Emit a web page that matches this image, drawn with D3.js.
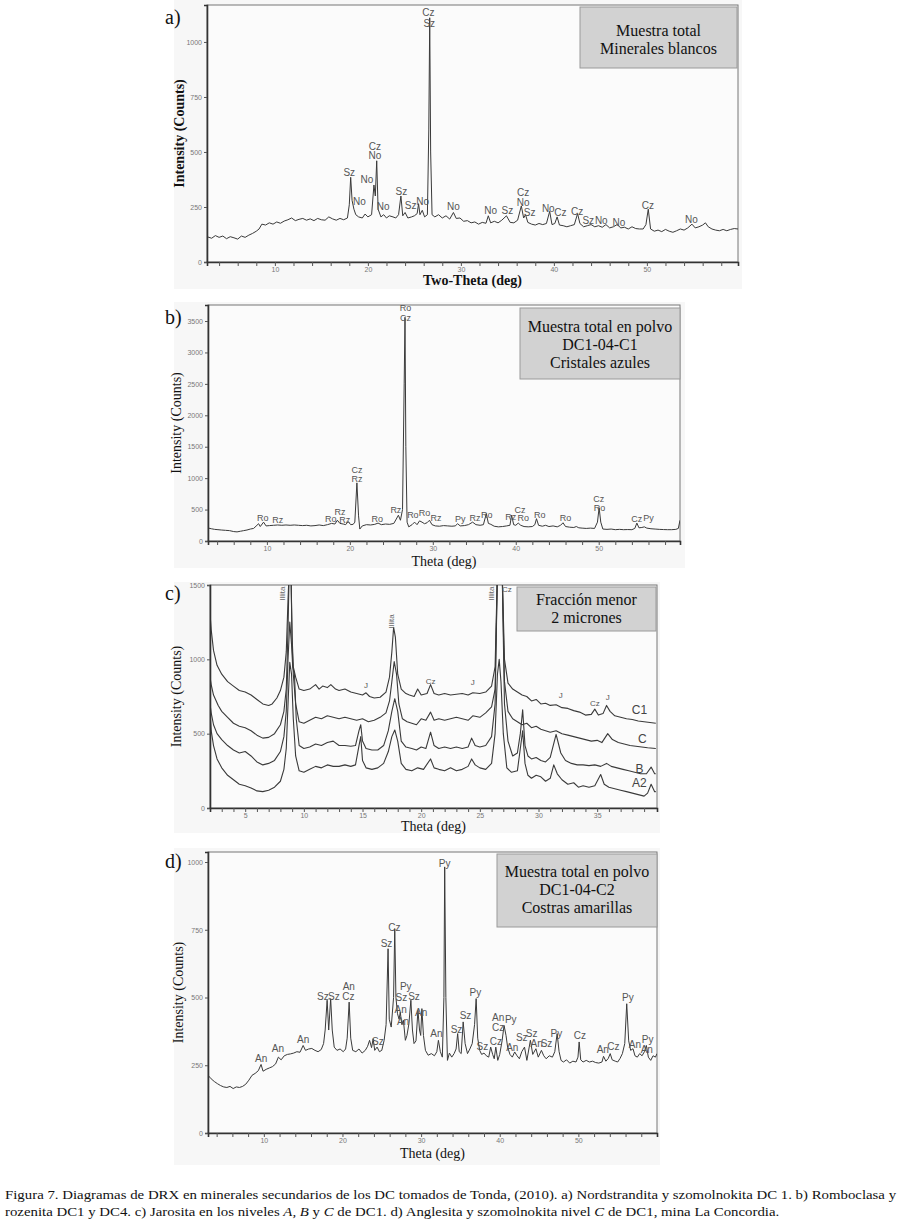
<!DOCTYPE html>
<html><head><meta charset="utf-8">
<script src="https://cdn.jsdelivr.net/npm/d3@7"></script>
<style>body{margin:0;background:#fff}</style></head>
<body><svg id="fig" width="902" height="1225"></svg>
<script>
// ---------------- DATA ----------------
// Panel a: Two-Theta (deg) vs counts
const aTheta=[2.7,3.2,3.6,4.0,4.4,4.8,5.2,5.6,6.0,6.4,6.8,7.2,7.6,8.0,8.3,8.6,9.0,9.4,9.8,10.2,10.6,11.0,11.4,11.8,12.2,12.6,13.0,13.4,13.8,14.2,14.6,15.0,15.4,15.8,16.2,16.6,17.0,17.4,17.8,18.0,18.15,18.3,18.5,18.7,19.0,19.4,19.7,20.0,20.4,20.65,20.8,20.95,21.1,21.4,21.7,22.0,22.3,22.7,23.0,23.3,23.55,23.75,24.0,24.3,24.7,25.0,25.3,25.45,25.6,25.85,26.1,26.4,26.55,26.65,26.75,26.9,27.2,27.6,28.0,28.4,28.8,29.2,29.5,29.9,30.3,30.7,31.1,31.5,31.9,32.3,32.7,32.95,33.2,33.6,34.0,34.4,34.9,35.3,35.7,36.1,36.5,36.75,36.95,37.2,37.6,38.0,38.4,38.8,39.2,39.55,39.8,40.1,40.35,40.6,41.0,41.4,41.8,42.2,42.55,42.8,43.2,43.6,44.0,44.4,44.8,45.2,45.6,46.0,46.4,46.8,47.2,47.6,48.0,48.4,48.8,49.2,49.6,49.9,50.15,50.4,50.8,51.2,51.6,52.0,52.4,52.8,53.2,53.6,54.0,54.4,54.85,55.2,55.6,56.0,56.3,56.6,57.0,57.4,57.8,58.2,58.6,59.0,59.4,59.8];
const aCounts=[115,108,120,112,118,106,115,110,104,118,112,122,130,140,150,172,168,178,172,182,176,186,192,200,188,194,198,190,196,188,198,192,190,205,196,190,198,192,200,260,385,280,240,215,205,200,218,205,215,350,300,460,240,205,215,200,210,205,200,215,300,210,225,200,205,210,220,265,215,235,205,215,600,1110,500,215,205,215,200,210,195,225,198,200,185,188,178,182,172,180,176,210,178,185,178,190,210,180,178,190,255,200,215,180,172,168,175,170,175,230,170,175,205,168,165,160,165,170,220,175,160,165,170,160,165,158,170,155,160,170,155,158,150,160,152,150,150,170,240,150,140,145,138,148,140,135,142,150,145,155,172,155,160,168,178,160,150,145,142,148,142,148,152,150];
const aPeakLabels=[[26.5,1136,"Cz"],[26.6,1086,"Sz"],[18.0,406,"Sz"],[19.1,273,"No"],[19.9,374,"No"],[20.75,527,"Cz"],[20.75,483,"No"],[21.65,250,"No"],[23.6,321,"Sz"],[24.6,255,"Sz"],[25.9,276,"No"],[29.2,250,"No"],[33.2,235,"No"],[35.0,235,"Sz"],[36.7,317,"Cz"],[36.7,271,"No"],[37.4,224,"Sz"],[39.4,245,"No"],[40.7,226,"Cz"],[42.5,230,"Cz"],[43.7,188,"Sz"],[45.1,188,"No"],[47.0,180,"No"],[50.1,255,"Cz"],[54.8,191,"No"]];
const aYTicks=[0,250,500,750,1000];
const aXTicks=[10,20,30,40,50];

// Panel b
const bTheta=[2.9,3.3,3.7,4.1,4.5,5.0,5.5,6.0,6.4,6.8,7.2,7.6,8.0,8.4,8.8,9.0,9.2,9.6,9.9,10.3,10.8,11.3,11.8,12.3,12.8,13.3,13.8,14.3,14.8,15.3,15.8,16.3,16.8,17.3,17.8,18.2,18.5,18.8,19.2,19.5,19.8,20.1,20.4,20.6,20.85,21.05,21.2,21.5,22.0,22.5,23.0,23.4,23.8,24.3,24.8,25.3,25.6,25.85,26.1,26.35,26.55,26.65,26.75,26.9,27.1,27.5,27.8,28.1,28.4,28.7,29.0,29.3,29.6,29.9,30.3,30.8,31.3,31.8,32.3,32.7,33.0,33.3,33.8,34.3,34.8,35.2,35.7,36.1,36.45,36.7,37.0,37.4,37.9,38.4,38.9,39.3,39.5,39.75,40.0,40.3,40.6,41.0,41.5,42.0,42.3,42.5,42.75,43.2,43.6,44.0,44.5,45.0,45.4,45.7,46.0,46.5,47.0,47.3,47.6,48.0,48.5,49.0,49.5,49.85,50.05,50.25,50.5,51.0,51.5,52.0,52.5,53.0,53.5,54.0,54.35,54.6,54.85,55.2,55.5,55.8,56.3,56.8,57.3,57.8,58.3,58.8,59.3,59.6,59.8];
const bCounts=[207,195,185,180,175,170,165,150,145,155,165,175,190,200,250,275,230,300,240,245,250,255,250,255,250,255,250,245,250,240,245,255,245,260,280,270,330,280,270,260,310,260,265,300,925,400,190,240,260,255,265,285,260,270,265,280,350,410,330,500,2500,3560,1500,300,225,260,300,260,320,300,275,290,330,260,240,235,245,240,235,240,275,240,245,260,300,260,250,260,435,280,265,235,225,230,240,250,410,260,250,285,250,230,225,230,260,355,250,235,250,230,240,225,250,290,230,220,215,230,210,205,200,205,200,300,530,300,190,185,190,180,185,180,182,180,200,285,210,215,225,205,195,190,185,182,180,180,185,200,330];
const bPeakLabels=[[26.7,3712,"Ro"],[26.7,3550,"Cz"],[9.5,372,"Ro"],[11.3,329,"Rz"],[17.7,356,"Ro"],[18.8,462,"Rz"],[19.4,340,"Rz"],[20.85,1136,"Cz"],[20.85,993,"Rz"],[23.3,356,"Ro"],[25.55,489,"Rz"],[27.6,409,"Ro"],[29.0,451,"Ro"],[30.4,372,"Rz"],[33.3,350,"Py"],[35.1,372,"Rz"],[36.5,420,"Ro"],[39.4,382,"Rz"],[40.5,489,"Cz"],[40.9,366,"Ro"],[42.9,409,"Ro"],[46.0,366,"Ro"],[50.0,674,"Cz"],[50.1,531,"Ro"],[54.6,356,"Cz"],[56.0,372,"Py"]];
const bYTicks=[0,500,1000,1500,2000,2500,3000,3500];
const bXTicks=[10,20,30,40,50];

// Panel c (four stacked patterns)
const cC1=[[2.0,1310],[2.1,1200],[2.3,1060],[2.6,960],[3.0,900],[3.5,850],[4.0,820],[4.5,790],[5.0,780],[5.5,760],[6.0,730],[6.5,700],[7.0,690],[7.3,700],[7.7,740],[8.0,790],[8.3,880],[8.5,1050],[8.65,1400],[8.75,1600],[8.9,1600],[9.0,1150],[9.1,950],[9.3,880],[9.6,800],[10.0,790],[10.5,800],[11.0,830],[11.3,800],[11.6,820],[12.0,810],[12.3,830],[12.7,800],[13.0,790],[13.5,800],[14.0,780],[14.5,770],[15.0,760],[15.3,775],[15.6,750],[16.0,740],[16.5,745],[17.0,780],[17.3,880],[17.5,1050],[17.65,1215],[17.8,1150],[18.0,900],[18.3,800],[18.7,770],[19.0,760],[19.4,750],[19.7,800],[20.0,760],[20.5,770],[20.8,830],[21.1,770],[21.5,760],[22.0,770],[22.5,760],[23.0,765],[23.5,770],[24.0,760],[24.4,775],[25.0,770],[25.5,780],[26.0,820],[26.3,950],[26.5,1600],[26.9,1600],[27.1,1000],[27.4,840],[27.8,800],[28.2,780],[28.6,760],[29.0,750],[29.4,720],[29.8,730],[30.2,700],[30.6,705],[31.0,690],[31.5,695],[32.0,675],[32.5,670],[33.0,655],[33.5,645],[34.0,625],[34.5,630],[34.8,665],[35.1,625],[35.5,635],[35.8,690],[36.1,650],[36.5,620],[37.0,610],[37.5,600],[38.0,595],[38.5,585],[39.0,580],[39.5,575],[40.0,570]];
const cC=[[2.0,880],[2.1,830],[2.3,760],[2.7,690],[3.0,650],[3.5,610],[4.0,570],[4.5,550],[5.0,540],[5.5,520],[6.0,490],[6.5,470],[7.0,475],[7.5,500],[8.0,560],[8.3,650],[8.5,800],[8.65,1200],[8.75,1600],[8.9,1600],[9.0,1100],[9.1,900],[9.3,700],[9.6,580],[10.0,570],[10.5,590],[11.0,610],[11.5,600],[12.0,620],[12.5,610],[13.0,600],[13.5,610],[14.0,600],[14.5,590],[15.0,600],[15.5,580],[16.0,590],[16.5,610],[17.0,640],[17.3,720],[17.5,850],[17.7,985],[17.9,900],[18.1,700],[18.4,600],[18.8,580],[19.2,570],[19.6,560],[20.0,600],[20.4,590],[20.8,645],[21.1,590],[21.5,600],[22.0,590],[22.5,600],[23.0,610],[23.5,600],[24.0,590],[24.4,620],[25.0,610],[25.5,640],[26.0,680],[26.3,800],[26.5,1600],[26.9,1600],[27.1,850],[27.4,650],[27.8,600],[28.2,580],[28.6,560],[29.0,570],[29.4,540],[29.8,550],[30.2,530],[30.6,520],[31.0,510],[31.5,520],[32.0,500],[32.5,490],[33.0,480],[33.5,470],[34.0,460],[34.5,450],[35.0,455],[35.4,440],[35.9,500],[36.3,460],[36.8,440],[37.3,430],[37.8,420],[38.3,415],[38.8,410],[39.3,405],[40.0,400]];
const cB=[[2.0,700],[2.1,640],[2.3,560],[2.6,500],[3.0,460],[3.5,420],[4.0,390],[4.5,370],[5.0,380],[5.5,350],[6.0,310],[6.5,290],[7.0,300],[7.5,320],[8.0,380],[8.3,480],[8.5,650],[8.65,1000],[8.8,1250],[8.95,1100],[9.05,950],[9.2,900],[9.35,600],[9.6,420],[10.0,400],[10.5,410],[11.0,430],[11.5,420],[12.0,440],[12.5,450],[13.0,420],[13.5,420],[14.0,415],[14.4,420],[14.7,520],[14.85,560],[15.0,450],[15.3,400],[15.8,390],[16.3,390],[16.8,420],[17.2,520],[17.5,650],[17.75,735],[18.0,650],[18.3,450],[18.7,410],[19.2,400],[19.6,390],[20.0,410],[20.4,400],[20.8,510],[21.1,420],[21.5,400],[22.0,410],[22.5,400],[23.0,410],[23.5,400],[24.0,410],[24.3,470],[24.6,420],[25.0,410],[25.5,420],[26.0,480],[26.3,700],[26.5,1600],[26.9,1600],[27.1,700],[27.4,450],[27.8,350],[28.2,370],[28.45,500],[28.65,660],[28.85,420],[29.1,350],[29.4,330],[29.8,340],[30.2,320],[30.6,310],[31.0,340],[31.5,495],[31.9,370],[32.3,320],[32.8,300],[33.3,290],[33.8,290],[34.3,285],[34.8,290],[35.3,280],[35.8,300],[36.2,280],[36.7,270],[37.2,260],[37.7,250],[38.2,240],[38.7,230],[39.2,230],[39.6,275],[39.9,230],[40.0,230]];
const cA2=[[2.0,650],[2.1,520],[2.3,420],[2.6,330],[3.0,270],[3.5,220],[4.0,190],[4.5,160],[5.0,150],[5.5,135],[6.0,115],[6.5,110],[7.0,120],[7.5,140],[8.0,180],[8.3,260],[8.5,400],[8.65,700],[8.8,980],[8.95,900],[9.1,600],[9.3,350],[9.6,250],[10.0,240],[10.5,260],[11.0,280],[11.5,270],[12.0,290],[12.5,280],[13.0,280],[13.5,290],[14.0,280],[14.4,290],[14.7,420],[14.85,480],[15.0,320],[15.3,270],[15.8,260],[16.3,270],[16.8,300],[17.2,380],[17.5,480],[17.75,525],[18.0,450],[18.3,300],[18.7,260],[19.2,250],[19.7,270],[20.2,260],[20.8,330],[21.1,270],[21.5,260],[22.0,250],[22.5,270],[23.0,250],[23.5,260],[24.0,280],[24.3,330],[24.6,290],[25.0,270],[25.5,260],[26.0,300],[26.3,500],[26.5,900],[26.65,1000],[26.8,850],[27.0,500],[27.3,270],[27.7,240],[28.2,250],[28.45,400],[28.65,520],[28.85,300],[29.1,220],[29.4,200],[29.8,220],[30.2,210],[30.6,180],[31.0,200],[31.3,290],[31.6,230],[32.0,190],[32.5,160],[33.0,170],[33.4,140],[33.8,150],[34.3,140],[34.8,150],[35.3,225],[35.6,160],[36.0,140],[36.5,130],[37.0,120],[37.5,110],[38.0,100],[38.5,90],[39.0,80],[39.3,100],[39.6,160],[39.9,110],[40.0,110]];
const cPeakLabels=[[20.8,852,"Cz"],[15.3,823,"J"],[24.4,845,"J"],[31.9,755,"J"],[34.8,705,"Cz"],[35.9,745,"J"],[27.3,1468,"Cz"]];
const cIllitaLabels=[[8.2,1442,"Illita"],[17.5,1255,"Illita"],[26.0,1442,"Illita"]];
const cSeriesNames=[[38.6,661,"C1"],[38.85,464,"C"],[38.6,262,"B"],[38.6,168,"A2"]];
const cYTicks=[0,500,1000,1500];
const cXTicks=[5,10,15,20,25,30,35];

// Panel d
const dTheta=[2.9,3.3,3.7,4.1,4.5,4.9,5.3,5.7,6.1,6.5,6.9,7.3,7.7,8.1,8.5,8.9,9.3,9.65,9.9,10.3,10.7,11.1,11.5,11.85,12.2,12.6,13.0,13.4,13.8,14.2,14.6,15.0,15.3,15.7,16.1,16.5,16.9,17.3,17.6,17.8,18.05,18.25,18.5,18.7,18.95,19.3,19.7,20.1,20.4,20.6,20.85,21.05,21.3,21.7,22.1,22.5,22.9,23.2,23.45,23.7,23.9,24.1,24.4,24.7,25.0,25.3,25.55,25.8,25.95,26.2,26.5,26.65,26.8,27.0,27.2,27.35,27.55,27.75,28.0,28.2,28.45,28.7,28.9,29.1,29.35,29.6,29.8,29.95,30.1,30.3,30.55,30.9,31.3,31.7,32.0,32.2,32.45,32.7,32.9,33.0,33.15,33.35,33.6,33.9,34.2,34.45,34.65,34.85,35.1,35.35,35.6,35.9,36.2,36.5,36.8,37.0,37.2,37.45,37.7,38.0,38.3,38.6,38.85,39.1,39.3,39.5,39.75,40.0,40.3,40.55,40.8,41.0,41.3,41.6,41.9,42.2,42.5,42.8,43.15,43.45,43.9,44.2,44.6,44.9,45.3,45.6,45.9,46.3,46.7,47.0,47.3,47.55,47.8,48.1,48.5,48.9,49.3,49.7,49.95,50.1,50.3,50.6,51.0,51.4,51.8,52.2,52.6,53.0,53.2,53.5,53.8,54.05,54.3,54.7,55.0,55.3,55.6,55.9,56.15,56.4,56.65,56.95,57.2,57.5,57.8,58.1,58.4,58.65,58.9,59.2,59.5,59.8,60.0];
const dCounts=[213,200,190,182,175,170,168,172,164,170,168,172,180,195,213,220,230,253,228,235,240,245,255,280,270,285,290,292,295,300,298,323,305,310,312,305,300,308,330,380,490,380,496,380,317,305,310,300,310,350,483,350,305,300,310,295,305,320,342,315,348,305,317,300,305,342,400,680,420,391,500,754,500,440,420,446,400,416,342,360,403,490,380,330,340,453,380,360,459,360,305,287,293,285,300,342,300,280,500,982,500,268,295,280,293,310,367,300,293,410,330,293,310,330,400,496,350,305,290,295,285,280,317,290,274,317,268,290,340,397,360,317,290,280,299,285,274,300,317,268,342,290,311,280,305,285,274,285,280,300,367,300,268,262,270,258,265,262,280,336,270,262,268,262,265,260,258,262,283,265,275,293,270,265,262,275,293,330,477,340,305,311,285,280,293,285,300,323,280,268,285,280,293];
const dPeakLabels=[[9.66,274,"An"],[11.8,311,"An"],[15.0,344,"An"],[17.5,502,"Sz"],[18.9,504,"Sz"],[20.8,542,"An"],[20.75,502,"Cz"],[24.5,338,"Sz"],[25.6,699,"Sz"],[26.6,760,"Cz"],[28.05,542,"Py"],[27.5,499,"Sz"],[29.1,504,"Sz"],[27.4,456,"An"],[27.7,410,"An"],[30.0,445,"An"],[31.95,367,"An"],[33.0,996,"Py"],[34.5,381,"Sz"],[35.65,432,"Sz"],[36.9,517,"Py"],[37.8,321,"Sz"],[39.5,338,"Cz"],[39.8,428,"An"],[41.4,418,"Py"],[39.8,391,"Cz"],[41.6,315,"An"],[42.8,352,"Sz"],[44.05,367,"Sz"],[44.7,332,"An"],[45.95,332,"Sz"],[47.2,369,"Py"],[50.2,360,"Cz"],[53.1,309,"An"],[54.45,321,"Cz"],[56.3,499,"Py"],[57.2,326,"An"],[58.8,344,"Py"],[58.7,309,"An"]];
const dYTicks=[0,250,500,750,1000];
const dXTicks=[10,20,30,40,50];

// ---------------- DRAWING ----------------
const svg=d3.select("#fig");
const SERIF="'Liberation Serif','Times New Roman',serif";
const SANS="'Liberation Sans',Arial,sans-serif";
let clipId=0;

function panel(p){
  const g=svg.append("g");
  g.append("rect").attr("x",p.bg[0]).attr("y",p.bg[1]).attr("width",p.bg[2]).attr("height",p.bg[3]).attr("fill","#f7f7f7");
  const x=d3.scaleLinear().domain(p.xDom).range([p.L,p.R]);
  const y=d3.scaleLinear().domain(p.yDom).range([p.B,p.T]);
  g.append("rect").attr("x",p.L).attr("y",p.T).attr("width",p.R-p.L).attr("height",p.B-p.T)
    .attr("fill","#fbfbfb").attr("stroke","#777").attr("stroke-width",1);
  const id="clip"+(clipId++);
  g.append("clipPath").attr("id",id).append("rect").attr("x",p.L).attr("y",p.T).attr("width",p.R-p.L).attr("height",p.B-p.T);
  const line=d3.line().x(d=>x(d[0])).y(d=>y(d[1]));
  const lg=g.append("g").attr("clip-path","url(#"+id+")");
  p.series.forEach(s=>{
    lg.append("path").datum(s).attr("d",line).attr("fill","none").attr("stroke","#3a3a3a").attr("stroke-width",p.lw||1).attr("stroke-linejoin","round");
  });
  const ya=g.append("g").attr("transform","translate("+p.L+",0)")
    .call(d3.axisLeft(y).tickValues(p.yTicks).tickSize(3).tickPadding(2).tickFormat(d3.format("d")));
  const xa=g.append("g").attr("transform","translate(0,"+p.B+")")
    .call(d3.axisBottom(x).tickValues(p.minor).tickSize(4).tickPadding(1).tickFormat(d=>p.xTicks.includes(d)?d:""));
  [ya,xa].forEach(a=>{
    a.select(".domain").attr("stroke","#333").attr("stroke-width",1.6);
    a.selectAll(".tick line").attr("stroke","#555");
    a.selectAll(".tick text").attr("fill","#777").style("font-family",SANS).style("font-size","7px");
  });
  g.append("g").selectAll("text").data(p.labels).join("text")
    .attr("x",d=>x(d[0])).attr("y",d=>y(d[1])).attr("text-anchor","middle").attr("dominant-baseline","central")
    .attr("fill","#555").style("font-family",SANS).style("font-size",(p.lfs||10)+"px").text(d=>d[2]);
  g.append("text").attr("transform","translate("+p.ylx+","+((p.T+p.B)/2)+") rotate(-90)")
    .attr("text-anchor","middle").style("font-family",SERIF).style("font-size","14px")
    .style("font-weight",p.bold?"bold":"normal").attr("fill","#111").text("Intensity (Counts)");
  g.append("text").attr("x",(p.L+p.R)/2).attr("y",p.xly).attr("text-anchor","middle")
    .style("font-family",SERIF).style("font-size","14px").style("font-weight",p.bold?"bold":"normal").attr("fill","#111").text(p.xTitle);
  g.append("text").attr("x",165).attr("y",p.letterY).style("font-family",SERIF).style("font-size","20px").attr("fill","#111").text(p.letter);
  const b=p.box;
  g.append("rect").attr("x",b[0]).attr("y",b[1]).attr("width",b[2]).attr("height",b[3]).attr("fill","#d2d2d2").attr("stroke","#9a9a9a");
  p.boxText.forEach((t,i)=>{
    g.append("text").attr("x",b[0]+b[2]/2).attr("y",p.boxY0+i*18).attr("text-anchor","middle")
      .style("font-family",SERIF).style("font-size","16px").attr("fill","#111").text(t);
  });
  return {g,x,y};
}

const zip=(a,b)=>a.map((v,i)=>[v,b[i]]);

panel({letter:"a)",letterY:24,bg:[174,0,568,289],L:207,R:738,T:5,B:262,xDom:[2.7,59.8],yDom:[0,1168],
  series:[zip(aTheta,aCounts)],yTicks:aYTicks,xTicks:aXTicks,minor:d3.range(4,60,2),labels:aPeakLabels,lfs:10,
  ylx:184,xly:285,xTitle:"Two-Theta (deg)",bold:true,box:[580,7,157,61],boxText:["Muestra total","Minerales blancos"],boxY0:36});

panel({letter:"b)",letterY:324,bg:[174,302,511,266],L:208,R:680,T:305,B:541,xDom:[2.9,59.8],yDom:[0,3755],
  series:[zip(bTheta,bCounts)],yTicks:bYTicks,xTicks:bXTicks,minor:d3.range(4,60,2),labels:bPeakLabels,lfs:9,
  ylx:181,xly:566,xTitle:"Theta (deg)",box:[520,308,160,71],boxText:["Muestra total en polvo","DC1-04-C1","Cristales azules"],boxY0:332});

const pc=panel({letter:"c)",letterY:600,bg:[174,582,486,251],L:210,R:657,T:585,B:808,xDom:[2,40.1],yDom:[0,1500],lw:1.1,
  series:[cC1,cC,cB,cA2],yTicks:cYTicks,xTicks:cXTicks,minor:d3.range(3,40,1),labels:cPeakLabels,lfs:8,
  ylx:181,xly:831,xTitle:"Theta (deg)",box:[517,587,139,44],boxText:["Fracción menor","2 micrones"],boxY0:605});
pc.g.append("g").selectAll("text").data(cIllitaLabels).join("text")
  .attr("transform",d=>"translate("+pc.x(d[0])+","+pc.y(d[1])+") rotate(-90)")
  .attr("text-anchor","middle").attr("dominant-baseline","central").attr("fill","#666")
  .style("font-family",SANS).style("font-size","8px").text(d=>d[2]);
pc.g.append("g").selectAll("text").data(cSeriesNames).join("text")
  .attr("x",d=>pc.x(d[0])).attr("y",d=>pc.y(d[1])).attr("text-anchor","middle").attr("dominant-baseline","central")
  .attr("fill","#444").style("font-family",SANS).style("font-size","12px").text(d=>d[2]);

panel({letter:"d)",letterY:868,bg:[174,848,486,317],L:208,R:657,T:852,B:1133,xDom:[2.9,60],yDom:[0,1037],
  series:[zip(dTheta,dCounts)],yTicks:dYTicks,xTicks:dXTicks,minor:d3.range(4,60,2),labels:dPeakLabels,lfs:10,
  ylx:183,xly:1158,xTitle:"Theta (deg)",box:[497,854,160,73],boxText:["Muestra total en polvo","DC1-04-C2","Costras amarillas"],boxY0:877});

// caption: two lines in a condensed serif, scaled horizontally as one block
const cap=svg.append("g").style("font-family",SERIF).style("font-size","13px").attr("fill","#111");
const l1=cap.append("text").attr("x",0).attr("y",0)
  .text("Figura 7. Diagramas de DRX en minerales secundarios de los DC tomados de Tonda, (2010). a) Nordstrandita y szomolnokita DC 1. b) Romboclasa y");
const l2=cap.append("text").attr("x",0).attr("y",17);
[["rozenita DC1 y DC4. c) Jarosita en los niveles ",0],["A, B",1],[" y ",0],["C",1],[" de DC1. d) Anglesita y szomolnokita nivel ",0],["C",1],[" de DC1, mina La Concordia.",0]]
  .forEach(s=>{const t=l2.append("tspan").text(s[0]); if(s[1]) t.style("font-style","italic");});
const w1=l1.node().getComputedTextLength();
cap.attr("transform","translate(5,1199) scale("+(892/w1)+",1)");
</script></body></html>
